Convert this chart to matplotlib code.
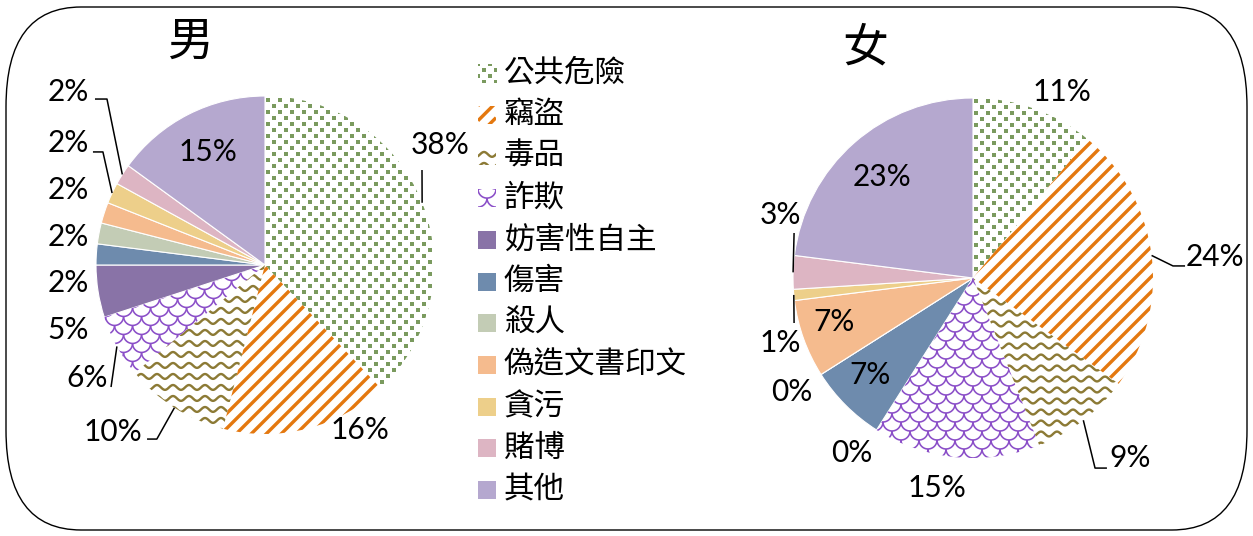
import numpy as np
import matplotlib
matplotlib.use("Agg")
import matplotlib.pyplot as plt
from matplotlib.patches import FancyBboxPatch, Rectangle
from matplotlib.collections import LineCollection

# ---- data ----
categories = ["公共危險", "竊盜", "毒品", "詐欺", "妨害性自主", "傷害",
              "殺人", "偽造文書印文", "貪污", "賭博", "其他"]
male_pct = [38, 16, 10, 6, 5, 2, 2, 2, 2, 2, 15]
female_pct = [11, 24, 9, 15, 0, 7, 0, 7, 1, 3, 23]
titles = ["男", "女"]

# ---- styles ----
colors = ["#7A9A5E", "#E4780F", "#8C7A35", "#8B4FC8", "#8973A7", "#6E8BAD",
          "#C3CCB5", "#F5BB8E", "#EDCF8A", "#DDB5C3", "#B5A8CF"]
patterns = ["dots", "stripes", "waves", "scales", None, None,
            None, None, None, None, None]

CJK = ["Noto Sans CJK TC", "DejaVu Sans"]
NUM = ["Lato", "DejaVu Sans"]
W, H = 1253, 536

# label layout, in pie-radius units (x, y) and leader line via points
male_label_xy = [(1.036, 0.710), (0.562, -0.976), (-0.899, -0.988), (-1.053, -0.669),
                 (-1.166, -0.385), (-1.166, -0.107), (-1.166, 0.166), (-1.166, 0.444),
                 (-1.166, 0.722), (-1.166, 1.024), (-0.337, 0.669)]
male_leaders = {0: [(0.929, 0.562)],
                2: [(-0.698, -1.030), (-0.640, -1.030)],
                3: [(-0.911, -0.722)],
                8: [(-1.018, 0.669), (-0.959, 0.669)],
                9: [(-1.006, 0.982), (-0.935, 0.982)]}
female_label_xy = [(0.494, 1.033), (1.344, 0.117), (0.872, -1.0), (-0.2, -1.167),
                   (-0.672, -0.972), (-0.572, -0.539), (-1.006, -0.633), (-0.772, -0.244),
                   (-1.072, -0.361), (-1.072, 0.35), (-0.506, 0.561)]
female_leaders = {1: [(1.178, 0.067), (1.111, 0.067)],
                  2: [(0.744, -1.056), (0.678, -1.056)],
                  8: [(-0.994, -0.25)],
                  9: [(-0.994, 0.25)]}


def add_pattern(ax, kind, color, clip, ext, u):
    """Fill a patch with a pattern, clipped to it.
    ext: (x0, x1, y0, y1) in data units, u: data units per pixel
    """
    x0, x1, y0, y1 = ext
    if kind == "dots":
        sx, sy = 12 * u, 6 * u
        pts = []
        for j, y in enumerate(np.arange(y0 - sy, y1 + sy, sy)):
            off = sx / 2 if j % 2 else 0
            for x in np.arange(x0 - sx + off, x1 + sx, sx):
                pts.append((x, y))
        pts = np.array(pts)
        art = ax.scatter(pts[:, 0], pts[:, 1], s=(4.6 * 0.72) ** 2, marker="s",
                         color=color, linewidths=0, zorder=3)
    elif kind == "stripes":
        segs = []
        for c in np.arange(x0 - y1 - 15 * u, x1 - y0 + 15 * u, 15 * u):
            segs.append([(x0, x0 - c), (x1, x1 - c)])
        art = LineCollection(segs, colors=color, linewidths=3.4 * 0.72, zorder=3)
        ax.add_collection(art)
    elif kind == "waves":
        xs = np.arange(x0 - 16 * u, x1 + 16 * u, 0.5 * u)
        segs = []
        for y in np.arange(y0 - 11 * u, y1 + 11 * u, 11 * u):
            segs.append(np.column_stack([xs, y + 2.4 * u * np.sin(2 * np.pi * xs / (16 * u))]))
        art = LineCollection(segs, colors=color, linewidths=2.4 * 0.72, zorder=3)
        ax.add_collection(art)
    else:  # scales
        r = 9 * u
        th = np.linspace(np.pi, 2 * np.pi, 20)
        segs = []
        for j, cy in enumerate(np.arange(y0 - r, y1 + 2 * r, r)):
            off = r if j % 2 else 0
            for cx in np.arange(x0 - 2 * r + off, x1 + 2 * r, 2 * r):
                segs.append(np.column_stack([cx + r * np.cos(th), cy + r * np.sin(th)]))
        art = LineCollection(segs, colors=color, linewidths=1.6 * 0.72, zorder=3)
        ax.add_collection(art)
    art.set_clip_path(clip)


def draw_pie(fig, values, cx, cy, rad, label_xy, leaders):
    """Pie centred at pixel (cx, cy) (y from top), radius rad pixels"""
    ax = fig.add_axes([(cx - rad) / W, (H - cy - rad) / H, 2 * rad / W, 2 * rad / H])
    ax.set_facecolor("none")
    face = ["white" if p else c for p, c in zip(patterns, colors)]
    wedges, _ = ax.pie(values, startangle=90, counterclock=False, colors=face, radius=1,
                       wedgeprops=dict(edgecolor="white", linewidth=0.8))
    u = 1.0 / rad
    for w, p, c, v in zip(wedges, patterns, colors, values):
        if p and v > 0:
            add_pattern(ax, p, c, w, (-1.05, 1.05, -1.05, 1.05), u)

    start = 90.0
    total = float(sum(values))
    for i, v in enumerate(values):
        mid = np.deg2rad(start - 360.0 * v / total / 2)
        start -= 360.0 * v / total
        lx, ly = label_xy[i]
        ax.text(lx, ly, f"{v}%", ha="center", va="center", fontsize=21.5, family=NUM,
                color="black", zorder=5)
        if i in leaders:
            pts = leaders[i] + [(np.cos(mid), np.sin(mid))]
            xs, ys = zip(*pts)
            ax.plot(xs, ys, color="black", lw=1.1, solid_capstyle="butt", zorder=5,
                    clip_on=False)
    ax.set_xlim(-1, 1)
    ax.set_ylim(-1, 1)
    ax.set_aspect("equal", adjustable="box")
    ax.axis("off")
    return ax


fig = plt.figure(figsize=(W / 100, H / 100), dpi=100)
bg = fig.add_axes([0, 0, 1, 1])
bg.set_xlim(0, W)
bg.set_ylim(0, H)
bg.axis("off")

# rounded chart border
border = FancyBboxPatch((6, H - 530), 1241, 523, boxstyle="round,pad=0,rounding_size=75",
                        mutation_aspect=1.33, facecolor="white", edgecolor="black", lw=1)
bg.add_patch(border)

# titles
bg.text(190, H - 42, titles[0], ha="center", va="center", fontsize=33, family=CJK)
bg.text(865, H - 48, titles[1], ha="center", va="center", fontsize=33, family=CJK)

# legend
for i, (name, c, p) in enumerate(zip(categories, colors, patterns)):
    yc = H - (73 + 41.7 * i)
    sw = Rectangle((478, yc - 9), 18, 18, facecolor="white" if p else c, edgecolor="none")
    bg.add_patch(sw)
    if p:
        add_pattern(bg, p, c, sw, (478, 496, yc - 9, yc + 9), 1.0)
    bg.text(504, yc, name, ha="left", va="center", fontsize=22, family=CJK)

draw_pie(fig, male_pct, 265, 265, 169, male_label_xy, male_leaders)
draw_pie(fig, female_pct, 973, 278, 180, female_label_xy, female_leaders)

fig.savefig("out.png", dpi=100)
